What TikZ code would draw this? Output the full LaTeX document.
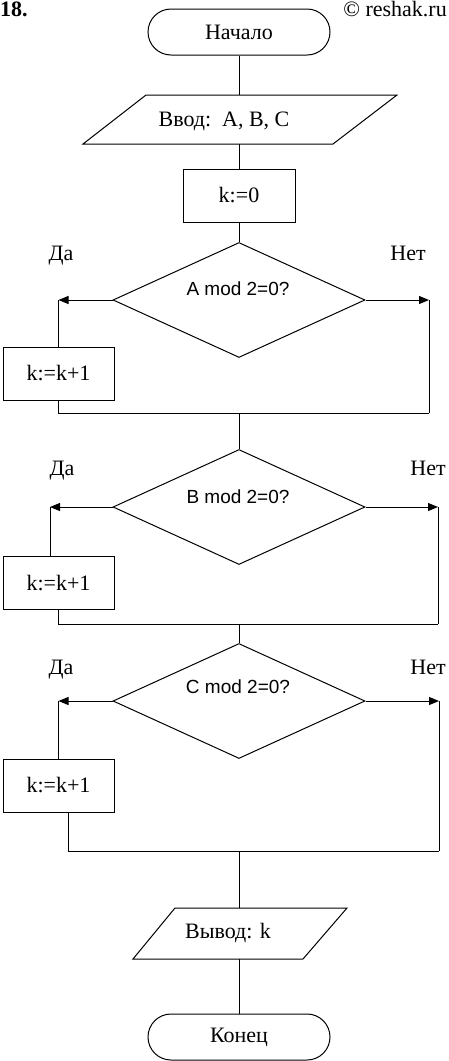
\documentclass[tikz,border=0pt]{standalone}
\usepackage{fontspec}
\setmainfont{Liberation Serif}
\newfontfamily\arialf{Liberation Sans}
\usetikzlibrary{shapes.geometric,shapes.misc,arrows.meta}
\begin{document}
\begin{tikzpicture}[x=1pt,y=-1pt,
  every node/.style={font=\fontsize{22}{26}\selectfont, inner sep=0pt},
  line/.style={line width=1pt},
  arr/.style={line width=1pt,-{Triangle[length=10pt,width=8pt]}},
  term/.style={draw,line width=1pt,rounded rectangle,minimum width=182pt,minimum height=46pt},
  proc/.style={draw,line width=1pt,rectangle,minimum width=111pt,minimum height=53pt},
  dia/.style={draw,line width=1pt,diamond,minimum width=252pt,minimum height=115pt},
  cond/.style={font=\arialf\fontsize{19}{22}\selectfont, anchor=base},
  lbl/.style={anchor=base},
]
\useasboundingbox (0,0) rectangle (448,1061);
% header texts
\node[font=\bfseries\fontsize{22}{26}\selectfont, anchor=base west] (num) at (0,16) {18.};
\node[anchor=base east] (site) at (447,16) {© reshak.ru};

% start
\node[term] (start) at (239,32) {Начало};

% input
\draw[line] (83,144) -- (146,95) -- (397,95) -- (333,144) -- cycle;
\coordinate (inT) at (239,95);
\coordinate (inB) at (239,144);
\node[lbl] (intext) at (224,126) {Ввод:\ \ A, B, C};

% k:=0
\node[proc, minimum width=112pt] (k0) at (239,195.5) {k:=0};

% decision 1
\node[dia] (d1) at (239,300) {};
\node[cond] (c1) at (238,295) {A mod 2=0?};
\node[lbl] (da1) at (61,260) {Да};
\node[lbl] (net1) at (408,260) {Нет};
\node[proc] (p1) at (58.5,373.5) {k:=k+1};
\coordinate (L1) at (58.5,300);
\coordinate (R1) at (429,300);
\coordinate (M1) at (239,413);
\coordinate (BR1) at (429,413);

% decision 2
\node[dia] (d2) at (239,507) {};
\node[cond] (c2) at (238,503) {B mod 2=0?};
\node[lbl] (da2) at (62,475) {Да};
\node[lbl] (net2) at (428,475) {Нет};
\node[proc] (p2) at (58.5,583) {k:=k+1};
\coordinate (L2) at (50,507);
\coordinate (R2) at (438,507);
\coordinate (M2) at (239,624);
\coordinate (BR2) at (438,624);

% decision 3
\node[dia] (d3) at (239,701) {};
\node[cond] (c3) at (238,693) {C mod 2=0?};
\node[lbl] (da3) at (61,674) {Да};
\node[lbl] (net3) at (428,674) {Нет};
\node[proc] (p3) at (58.5,785.5) {k:=k+1};
\coordinate (L3) at (58.5,701);
\coordinate (R3) at (439,701);
\coordinate (M3) at (239,851);
\coordinate (BR3) at (439,851);

% output
\draw[line] (133,959) -- (175,908) -- (347,908) -- (303,959) -- cycle;
\coordinate (outT) at (239,908);
\coordinate (outB) at (239,959);
\node[lbl] (outtext) at (228,938) {Вывод: k};

% end
\node[term] (end) at (239,1037) {Конец};

% connectors
\draw[line] (start.south) -- (inT);
\draw[line] (inB) -- (k0.north);
\draw[line] (k0.south) -- (d1.north);

\draw[arr] (d1.west) -- (L1);
\draw[line] (L1) -- (p1.north);
\draw[arr] (d1.east) -- (R1);
\draw[line] (R1) -- (BR1);
\draw[line] (p1.south) -- (p1.south |- BR1) -- (BR1);
\draw[line] (M1) -- (d2.north);

\draw[arr] (d2.west) -- (L2);
\draw[line] (L2) -- (L2 |- p2.north);
\draw[arr] (d2.east) -- (R2);
\draw[line] (R2) -- (BR2);
\draw[line] (p2.south) -- (p2.south |- BR2) -- (BR2);
\draw[line] (M2) -- (d3.north);

\draw[arr] (d3.west) -- (L3);
\draw[line] (L3) -- (p3.north);
\draw[arr] (d3.east) -- (R3);
\draw[line] (R3) -- (BR3);
\draw[line] ([xshift=10pt]p3.south) -- ([xshift=10pt]p3.south |- BR3) -- (BR3);
\draw[line] (M3) -- (outT);

\draw[line] (outB) -- (end.north);
\end{tikzpicture}
\end{document}
